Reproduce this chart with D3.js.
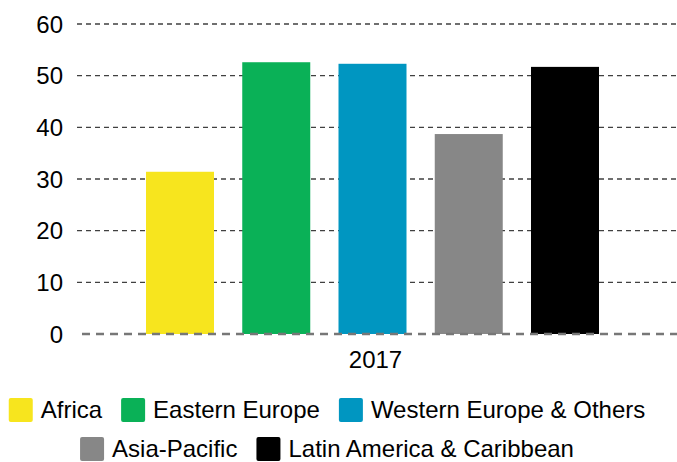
<!DOCTYPE html>
<html>
<head>
<meta charset="utf-8">
<script src="https://cdn.jsdelivr.net/npm/d3@7"></script>
<style>
  html, body { margin: 0; padding: 0; background: #fff; }
  svg { display: block; }
  text { font-family: "Liberation Sans", Arial, sans-serif; fill: #000; }
</style>
</head>
<body>
<svg id="chart" width="677" height="462"></svg>
<script>
const categories = ["Africa", "Eastern Europe", "Western Europe & Others", "Asia-Pacific", "Latin America & Caribbean"];
const values = [31.4, 52.6, 52.3, 38.7, 51.7];
const colors = ["#F7E51E", "#0AB157", "#0096C1", "#878787", "#000000"];
const yTicks = [0, 10, 20, 30, 40, 50, 60];
const groupLabel = "2017";
const legendRows = [[0, 1, 2], [3, 4]];

const svg = d3.select("#chart");
const W = 677;

const y = d3.scaleLinear().domain([0, 60]).range([334, 24]);
const x = d3.scaleBand().domain(categories).range([82, 663])
  .paddingInner(0.2935).paddingOuter(0.665);

// gridlines
svg.append("g").selectAll("line").data(yTicks.filter(t => t > 0)).join("line")
  .attr("x1", 77).attr("x2", W)
  .attr("y1", d => y(d)).attr("y2", d => y(d))
  .attr("stroke", "#404040").attr("stroke-width", 1.3)
  .attr("stroke-dasharray", "5,4");

// tick labels
svg.append("g").selectAll("text").data(yTicks).join("text")
  .attr("x", 63).attr("y", d => y(d) + 8.5)
  .attr("text-anchor", "end")
  .style("font-size", "24px")
  .text(d => d);

// bars
svg.append("g").selectAll("rect").data(categories).join("rect")
  .attr("x", d => x(d))
  .attr("width", x.bandwidth())
  .attr("y", (d, i) => y(values[i]))
  .attr("height", (d, i) => y(0) - y(values[i]))
  .attr("fill", (d, i) => colors[i]);

// zero line
svg.append("line")
  .attr("x1", 82).attr("x2", W)
  .attr("y1", y(0)).attr("y2", y(0))
  .attr("stroke", "#777").attr("stroke-width", 2.5)
  .attr("stroke-dasharray", "8,6");

// group label
svg.append("text")
  .attr("x", (x.range()[0] + x.range()[1]) / 2 + 3)
  .attr("y", 368)
  .attr("text-anchor", "middle")
  .style("font-size", "24px")
  .text(groupLabel);

// legend
const sw = 24, gapText = 8, gapItem = 19;
const centerX = 327;
const rowY = [410, 449];
legendRows.forEach((row, r) => {
  const g = svg.append("g");
  let cx = 0;
  row.forEach(i => {
    const item = g.append("g").attr("transform", `translate(${cx},0)`);
    item.append("rect").attr("x", 0).attr("y", rowY[r] - sw / 2)
      .attr("width", sw).attr("height", sw).attr("rx", 2)
      .attr("fill", colors[i]);
    const t = item.append("text").attr("x", sw + gapText).attr("y", rowY[r] + 7.5)
      .style("font-size", "24px").text(categories[i]);
    cx += sw + gapText + t.node().getComputedTextLength() + gapItem;
  });
  const total = cx - gapItem;
  g.attr("transform", `translate(${centerX - total / 2},0)`);
});
</script>
</body>
</html>
